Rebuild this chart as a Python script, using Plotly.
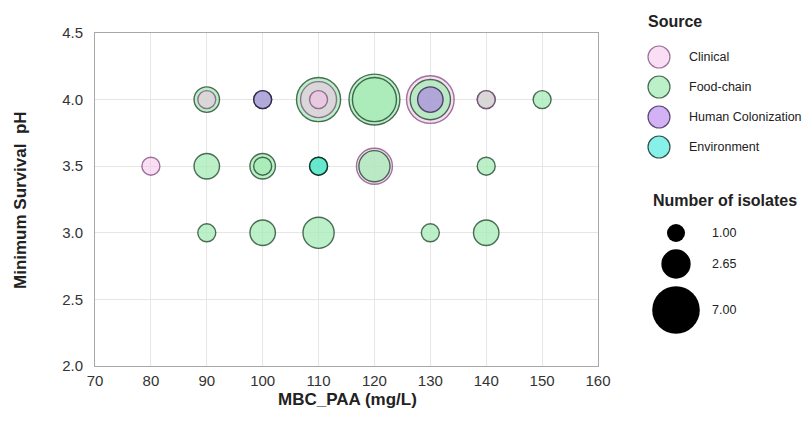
import numpy as np
import plotly.graph_objects as go

# ---- isolate groups (drawn in listed order, larger circles first) ----
mbc_paa = [80,
           90, 90,
           100, 100,
           110, 110, 110,
           120, 120,
           130, 130, 130,
           140, 140,
           150,
           90,
           100, 100,
           110, 110,
           120, 120,
           140,
           90, 100, 110, 130, 140]
min_ph = [3.5,
          4.0, 4.0,
          4.0, 4.0,
          4.0, 4.0, 4.0,
          4.0, 4.0,
          4.0, 4.0, 4.0,
          4.0, 4.0,
          4.0,
          3.5,
          3.5, 3.5,
          3.5, 3.5,
          3.5, 3.5,
          3.5,
          3.0, 3.0, 3.0, 3.0, 3.0]
source = ["Clinical",
          "Food-chain", "Clinical",
          "Food-chain", "Human Colonization",
          "Food-chain", "Clinical", "Clinical",
          "Food-chain", "Food-chain",
          "Clinical", "Food-chain", "Human Colonization",
          "Food-chain", "Clinical",
          "Food-chain",
          "Food-chain",
          "Food-chain", "Food-chain",
          "Food-chain", "Environment",
          "Clinical", "Food-chain",
          "Food-chain",
          "Food-chain", "Food-chain", "Food-chain", "Food-chain", "Food-chain"]
isolates = [1,
            2, 1,
            1, 1,
            6, 4, 1,
            8, 6,
            7, 5, 2,
            1, 1,
            1,
            2,
            2, 1,
            1, 1,
            4, 3,
            1,
            1, 2, 3, 1, 2]

source_order = ["Clinical", "Food-chain", "Human Colonization", "Environment"]
size_breaks = [1.00, 2.65, 7.00]
x_ticks = [70, 80, 90, 100, 110, 120, 130, 140, 150, 160]
y_ticks = [2.0, 2.5, 3.0, 3.5, 4.0, 4.5]

# ---- styling ----
fill = {
    "Clinical": "rgba(245,189,231,0.5)",
    "Food-chain": "rgba(166,235,182,0.75)",
    "Human Colonization": "rgba(168,100,236,0.5)",
    "Environment": "rgba(15,225,209,0.5)",
}
edge = {
    "Clinical": "rgba(124,74,124,0.75)",
    "Food-chain": "rgba(24,61,36,0.75)",
    "Human Colonization": "rgba(30,15,60,0.7)",
    "Environment": "rgba(0,30,20,0.75)",
}
K = 18.0  # marker diameter for one isolate (area proportional to count)


def diam(n):
    return K * np.sqrt(np.asarray(n, dtype=float))


W, H = 810, 432
FONT = "Liberation Sans, Arial, sans-serif"
INK = "#222222"

fig = go.Figure()

fig.add_trace(go.Scatter(
    x=mbc_paa, y=min_ph, mode="markers",
    marker=dict(
        size=diam(isolates),
        sizemode="diameter",
        opacity=1,
        color=[fill[s] for s in source],
        line=dict(color=[edge[s] for s in source], width=1.4),
    ),
    text=[f"{s}: {n}" for s, n in zip(source, isolates)],
    hoverinfo="x+y+text",
    showlegend=False,
    cliponaxis=False,
))

# ---- legend panel on a hidden pixel-scaled axis pair ----
src_x0, src_y0, src_dy = 659, 57, 30
fig.add_trace(go.Scatter(
    x=[src_x0] * len(source_order),
    y=[src_y0 + i * src_dy for i in range(len(source_order))],
    xaxis="x2", yaxis="y2", mode="markers",
    marker=dict(size=22, opacity=1, color=[fill[s] for s in source_order],
                line=dict(color=[edge[s] for s in source_order], width=1.2)),
    hoverinfo="skip", showlegend=False,
))
size_y = [233, 264, 310]
fig.add_trace(go.Scatter(
    x=[676] * len(size_breaks), y=size_y,
    xaxis="x2", yaxis="y2", mode="markers",
    marker=dict(size=diam(size_breaks), opacity=1, color="#000000",
                line=dict(width=0)),
    hoverinfo="skip", showlegend=False,
))

annotations = [
    dict(text="<b>Source</b>", x=646, y=21, xref="x2", yref="y2",
         xanchor="left", yanchor="middle", showarrow=False,
         font=dict(size=16, color=INK, family=FONT)),
    dict(text="<b>Number of isolates</b>", x=651, y=200, xref="x2", yref="y2",
         xanchor="left", yanchor="middle", showarrow=False,
         font=dict(size=16, color=INK, family=FONT)),
]
for i, s in enumerate(source_order):
    annotations.append(dict(text=s, x=687, y=src_y0 + i * src_dy,
                            xref="x2", yref="y2", xanchor="left", yanchor="middle",
                            showarrow=False, font=dict(size=12.5, color=INK, family=FONT)))
for v, yy in zip(size_breaks, size_y):
    annotations.append(dict(text=f"{v:.2f}", x=710, y=yy,
                            xref="x2", yref="y2", xanchor="left", yanchor="middle",
                            showarrow=False, font=dict(size=12.5, color=INK, family=FONT)))

# axis titles
annotations.append(dict(text="<b>MBC_PAA (mg/L)</b>", x=347 / W, y=1 - 399 / H,
                        xref="paper", yref="paper", xanchor="center", yanchor="middle",
                        showarrow=False, font=dict(size=17, color=INK, family=FONT)))
annotations.append(dict(text="<b>Minimum Survival\u00a0 pH</b>", x=20 / W, y=1 - 200 / H,
                        xref="paper", yref="paper", xanchor="center", yanchor="middle",
                        textangle=-90, showarrow=False,
                        font=dict(size=17, color=INK, family=FONT)))

axis_common = dict(
    showgrid=True, gridcolor="#e6e6e6", gridwidth=1,
    showline=True, mirror=True, linecolor="#a8a8a8", linewidth=1,
    zeroline=False, ticks="", automargin=False,
    tickfont=dict(size=15, color="#333333", family=FONT),
)

fig.update_layout(
    width=W, height=H,
    margin=dict(l=0, r=0, t=0, b=0, pad=0, autoexpand=False),
    paper_bgcolor="white", plot_bgcolor="white",
    xaxis=dict(domain=[95 / W, 598 / W], range=[70, 160], tickvals=x_ticks,
               ticklabelstandoff=1, **axis_common),
    yaxis=dict(domain=[1 - 366 / H, 1 - 33 / H], range=[2.0, 4.5], tickvals=y_ticks,
               tickformat=".1f", ticklabelstandoff=8, **axis_common),
    xaxis2=dict(domain=[600 / W, 1], range=[600, 810], visible=False, anchor="y2",
                automargin=False),
    yaxis2=dict(domain=[0, 1], range=[432, 0], visible=False, anchor="x2",
                automargin=False),
    annotations=annotations,
    showlegend=False,
)

fig.write_html("out.html")
